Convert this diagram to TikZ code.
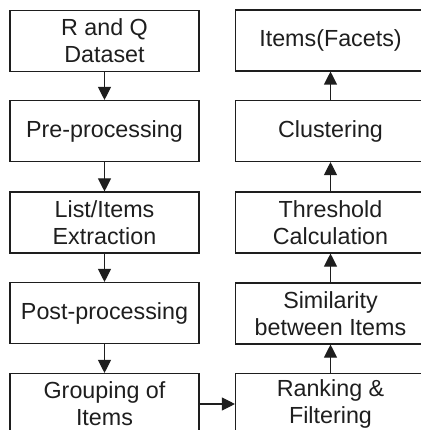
\documentclass[tikz,border=0pt]{standalone}
\usepackage{fontspec}
\setmainfont{Liberation Sans}
\usetikzlibrary{arrows.meta}
\definecolor{ink}{HTML}{1E1E1E}
\begin{document}
\begin{tikzpicture}[x=1pt,y=1pt,
  stepbox/.style={draw=ink,line width=1.1pt,text=ink,minimum width=189pt,minimum height=61pt,
    inner sep=0pt,align=center,font=\fontsize{23.3}{27}\selectfont},
  flow/.style={draw=ink,line width=1.1pt,-{Triangle[width=13pt,length=13pt]},fill=ink}]
\useasboundingbox (0,0) rectangle (420,-430);
\node[stepbox] (rq) at (104.5,-41) {R and Q\\Dataset};
\node[stepbox] (pre) at (104.5,-131) {Pre-processing};
\node[stepbox] (list) at (104.5,-222.5) {List/Items\\Extraction};
\node[stepbox] (post) at (104.5,-313) {Post-processing};
\node[stepbox] (group) at (104.5,-404) {Grouping of\\Items};
\node[stepbox,minimum width=190pt] (rank) at (330.5,-404) {Ranking \&\\Filtering};
\node[stepbox,minimum width=190pt] (sim) at (330.5,-313.5) {Similarity\\between Items};
\node[stepbox,minimum width=190pt] (thr) at (330.5,-222.5) {Threshold\\Calculation};
\node[stepbox,minimum width=190pt] (clu) at (330.5,-131) {Clustering};
\node[stepbox,minimum width=190pt] (fac) at (330.5,-40.5) {Items(Facets)};
\draw[flow] (rq) -- (pre);
\draw[flow] (pre) -- (list);
\draw[flow] (list) -- (post);
\draw[flow] (post) -- (group);
\draw[flow] (group) -- (rank);
\draw[flow] (rank) -- (sim);
\draw[flow] (sim) -- (thr);
\draw[flow] (thr) -- (clu);
\draw[flow] (clu) -- (fac);
\end{tikzpicture}
\end{document}
